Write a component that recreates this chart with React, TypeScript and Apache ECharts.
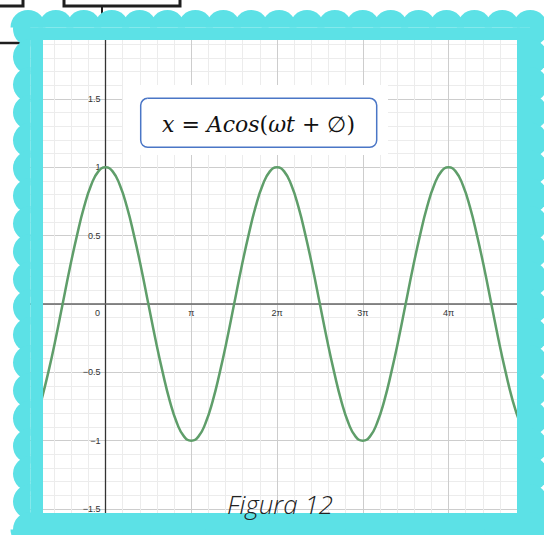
import React, { useEffect, useRef } from 'react';
import * as echarts from 'echarts';

// Curve readings: x in multiples of π, y values
const xPi = [
  -0.75, -0.667, -0.583, -0.5, -0.417, -0.333, -0.25, -0.167, -0.083,
  0, 0.083, 0.167, 0.25, 0.333, 0.417, 0.5, 0.583, 0.667, 0.75, 0.833, 0.917,
  1, 1.083, 1.167, 1.25, 1.333, 1.417, 1.5, 1.583, 1.667, 1.75, 1.833, 1.917,
  2, 2.083, 2.167, 2.25, 2.333, 2.417, 2.5, 2.583, 2.667, 2.75, 2.833, 2.917,
  3, 3.083, 3.167, 3.25, 3.333, 3.417, 3.5, 3.583, 3.667, 3.75, 3.833, 3.917,
  4, 4.083, 4.167, 4.25, 4.333, 4.417, 4.5, 4.583, 4.667, 4.75, 4.833,
];
const yVal = [
  -0.71, -0.5, -0.26, 0, 0.26, 0.5, 0.71, 0.87, 0.97,
  1, 0.97, 0.87, 0.71, 0.5, 0.26, 0, -0.26, -0.5, -0.71, -0.87, -0.97,
  -1, -0.97, -0.87, -0.71, -0.5, -0.26, 0, 0.26, 0.5, 0.71, 0.87, 0.97,
  1, 0.97, 0.87, 0.71, 0.5, 0.26, 0, -0.26, -0.5, -0.71, -0.87, -0.97,
  -1, -0.97, -0.87, -0.71, -0.5, -0.26, 0, 0.26, 0.5, 0.71, 0.87, 0.97,
  1, 0.97, 0.87, 0.71, 0.5, 0.26, 0, -0.26, -0.5, -0.71, -0.87,
];

const xTickValues = [0, 1, 2, 3, 4];
const xTickTexts = ['0', 'π', '2π', '3π', '4π'];
const yTickValues = [1.5, 1, 0.5, -0.5, -1, -1.5];
const yTickTexts = ['1.5', '1', '0.5', '−0.5', '−1', '−1.5'];

const formulaText = '{i|x}{o|=}{i|Acos}({i|ωt}{o|+}∅)';
const captionText = 'Figura 12';

const FRAME = '#5CE1E6';

// plot geometry (pixels)
const GRID_LEFT = 19.75;
const GRID_RIGHT = 9.75;
const GRID_TOP = 30.6;
const GRID_BOTTOM_Y = 577.4;
const ZERO_X = 105.5;
const ZERO_Y = 304;

function buildFrame(): any[] {
  const els: any[] = [];
  const r = 17.5;
  const z = 100;
  const style = { fill: FRAME };
  els.push({ type: 'rect', z, silent: true, shape: { x: 28, y: 27.5, width: 502, height: 12.5 }, style });
  els.push({ type: 'rect', z, silent: true, shape: { x: 28, y: 513, width: 516, height: 30 }, style });
  els.push({ type: 'rect', z, silent: true, shape: { x: 30.5, y: 27.5, width: 12.5, height: 510 }, style });
  els.push({ type: 'rect', z, silent: true, shape: { x: 517, y: 27.5, width: 13, height: 510 }, style });
  const stepX = 27.9;
  const stepY = 27.8;
  for (let i = 0; i <= 18; i++) {
    const cx = 28 + stepX * i;
    els.push({ type: 'sector', z, silent: true, shape: { cx, cy: 27.5, r, r0: 0, startAngle: Math.PI, endAngle: Math.PI * 2, clockwise: true }, style });
    els.push({ type: 'sector', z, silent: true, shape: { cx, cy: 529.4, r, r0: 0, startAngle: 0, endAngle: Math.PI, clockwise: true }, style });
  }
  for (let j = 0; j <= 18; j++) {
    const cy = 29 + stepY * j;
    els.push({ type: 'sector', z, silent: true, shape: { cx: 30.5, cy, r, r0: 0, startAngle: Math.PI / 2, endAngle: Math.PI * 1.5, clockwise: true }, style });
    els.push({ type: 'sector', z, silent: true, shape: { cx: 530, cy, r, r0: 0, startAngle: -Math.PI / 2, endAngle: Math.PI / 2, clockwise: true }, style });
  }
  return els;
}

function buildBackdrop(): any[] {
  const s = { stroke: '#1e1e1e', lineWidth: 3, fill: 'none' };
  return [
    { type: 'polyline', z: 50, silent: true, shape: { points: [[0, 6], [23, 6], [23, 0]] }, style: s },
    { type: 'polyline', z: 50, silent: true, shape: { points: [[64, 0], [64, 6], [180, 6], [180, 0]] }, style: s },
    { type: 'line', z: 50, silent: true, shape: { x1: 102, y1: 6, x2: 102, y2: 22 }, style: { stroke: '#1e1e1e', lineWidth: 2 } },
    { type: 'line', z: 50, silent: true, shape: { x1: 0, y1: 43, x2: 22, y2: 43 }, style: { stroke: '#1e1e1e', lineWidth: 2.5 } },
  ];
}

export default function App() {
  const ref = useRef<HTMLDivElement>(null);
  useEffect(() => {
    if (!ref.current) return;
    const chart = echarts.init(ref.current, null, { renderer: 'svg' });
    const data = xPi.map((x, i) => [x, yVal[i]]);
    const labelFont = { fontSize: 9, color: '#333', fontFamily: 'Liberation Sans, Arial, sans-serif' };
    chart.setOption({
      animation: false,
      backgroundColor: '#ffffff',
      grid: {
        left: GRID_LEFT,
        right: GRID_RIGHT,
        top: GRID_TOP,
        bottom: 535 - GRID_BOTTOM_Y,
        containLabel: false,
        outerBoundsMode: 'none',
      },
      xAxis: {
        type: 'value',
        min: -1,
        max: 5,
        interval: 1,
        position: 'bottom',
        offset: -(GRID_BOTTOM_Y - ZERO_Y),
        axisLine: { show: true, onZero: false, lineStyle: { color: '#666', width: 1.5 } },
        axisTick: { show: false },
        minorTick: { show: false, splitNumber: 5 },
        splitLine: { show: true, lineStyle: { color: '#cdcdcd', width: 1 } },
        minorSplitLine: { show: true, lineStyle: { color: '#ececec', width: 1 } },
        axisLabel: {
          ...labelFont,
          margin: 4,
          formatter: (v: number) => {
            const k = xTickValues.indexOf(v);
            if (k < 0) return '';
            if (v === 0) return '{z|' + xTickTexts[k] + '}';
            return xTickTexts[k];
          },
          rich: { z: { ...labelFont, padding: [0, 16, 0, 0] } },
        },
      },
      yAxis: {
        type: 'value',
        min: -2,
        max: 2,
        interval: 0.5,
        position: 'left',
        offset: -(ZERO_X - GRID_LEFT),
        axisLine: { show: true, onZero: false, lineStyle: { color: '#333', width: 1.3 } },
        axisTick: { show: false },
        minorTick: { show: false, splitNumber: 5 },
        splitLine: { show: true, lineStyle: { color: '#cdcdcd', width: 1 } },
        minorSplitLine: { show: true, lineStyle: { color: '#ececec', width: 1 } },
        axisLabel: {
          ...labelFont,
          margin: 5,
          formatter: (v: number) => {
            const k = yTickValues.indexOf(v);
            return k < 0 ? '' : yTickTexts[k];
          },
        },
      },
      series: [
        {
          type: 'line',
          data,
          smooth: true,
          showSymbol: false,
          clip: true,
          lineStyle: { color: '#5f9e6a', width: 2.5 },
          z: 3,
        },
      ],
      graphic: [
        ...buildBackdrop(),
        { type: 'rect', z: 20, silent: true, shape: { x: 123, y: 85, width: 265, height: 70 }, style: { fill: '#ffffff' } },
        {
          type: 'rect', z: 21, silent: true,
          shape: { x: 140.7, y: 98.3, width: 236, height: 49, r: 7 },
          style: { fill: '#ffffff', stroke: '#4a76c6', lineWidth: 1.5 },
        },
        {
          type: 'text', z: 22, silent: true,
          x: 258.5, y: 124,
          style: {
            text: formulaText,
            align: 'center',
            verticalAlign: 'middle',
            fontFamily: 'DejaVu Serif, serif',
            fontSize: 22,
            fill: '#111',
            rich: {
              i: { fontFamily: 'DejaVu Serif, serif', fontStyle: 'italic', fontSize: 22, color: '#111' },
              o: { fontFamily: 'DejaVu Serif, serif', fontSize: 22, color: '#111', padding: [0, 7, 0, 7] },
            },
          },
        },
        ...buildFrame(),
        {
          type: 'text', z: 120, silent: true,
          x: 280, y: 504,
          style: {
            text: captionText,
            align: 'center',
            verticalAlign: 'middle',
            fontFamily: 'Open Sans, sans-serif',
            fontStyle: 'italic',
            fontWeight: 300,
            fontSize: 26,
            fill: '#222',
          },
        },
      ],
    });
    return () => chart.dispose();
  }, []);
  return <div ref={ref} style={{ position: 'fixed', left: 0, top: 0, width: 544, height: 535 }} />;
}
